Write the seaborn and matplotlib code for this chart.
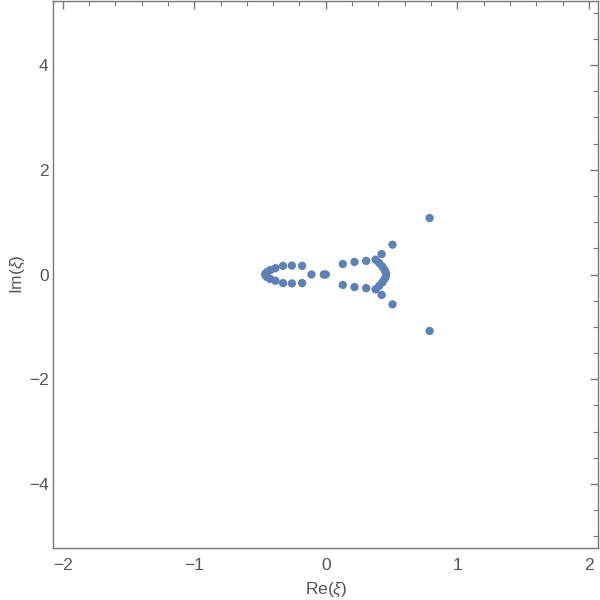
import matplotlib
matplotlib.use("Agg")
import matplotlib.pyplot as plt
from matplotlib.ticker import MultipleLocator
import seaborn as sns
import pandas as pd

re_vals = [0.789, 0.789, 0.507, 0.507, 0.424, 0.424, 0.378, 0.378,
           0.405, 0.405, 0.430, 0.430, 0.448, 0.448, 0.458, 0.458,
           0.307, 0.307, 0.218, 0.218, 0.129, 0.129,
           0.000, -0.015, -0.109,
           -0.180, -0.180, -0.258, -0.258, -0.325, -0.325,
           -0.383, -0.383, -0.421, -0.421, -0.446, -0.446, -0.459, -0.459]
im_vals = [1.078, -1.078, 0.570, -0.570, 0.390, -0.390, 0.283, -0.283,
           0.220, -0.220, 0.150, -0.150, 0.080, -0.080, 0.025, -0.025,
           0.260, -0.260, 0.240, -0.240, 0.200, -0.200,
           0.000, 0.000, 0.000,
           0.165, -0.165, 0.170, -0.170, 0.165, -0.165,
           0.120, -0.120, 0.085, -0.085, 0.050, -0.050, 0.015, -0.015]

df = pd.DataFrame({"re": re_vals, "im": im_vals})

sns.set_style("white")
plt.rcParams["font.family"] = ["Liberation Sans", "DejaVu Sans"]
plt.rcParams["mathtext.fontset"] = "custom"
plt.rcParams["mathtext.it"] = "Liberation Sans:italic"
plt.rcParams["mathtext.rm"] = "Liberation Sans"

grey = "#555555"
fig = plt.figure(figsize=(6, 6), dpi=100)
ax = fig.add_axes([0.089, 0.087, 0.908, 0.911])

sns.scatterplot(data=df, x="re", y="im", color="#5E81B5", s=36,
                edgecolor="none", ax=ax)

ax.set_xlim(-2.07, 2.07)
ax.set_ylim(-5.22, 5.22)
ax.xaxis.set_major_locator(MultipleLocator(1))
ax.xaxis.set_minor_locator(MultipleLocator(0.2))
ax.yaxis.set_major_locator(MultipleLocator(2))
ax.yaxis.set_minor_locator(MultipleLocator(0.5))

for sp in ax.spines.values():
    sp.set_color("#777777")
    sp.set_linewidth(1.0)

ax.tick_params(which="both", direction="in", top=True, right=True,
               color="#777777", labelcolor=grey, labelsize=12.5)
ax.tick_params(which="major", length=6, width=1)
ax.tick_params(which="minor", length=3.5, width=0.8)
ax.tick_params(axis="x", pad=7)

ax.set_xlabel(r"Re($\xi$)", color=grey, fontsize=12.5, labelpad=6)
ax.set_ylabel(r"Im($\xi$)", color=grey, fontsize=12.5, labelpad=1)

fig.savefig("out.png", dpi=100)
